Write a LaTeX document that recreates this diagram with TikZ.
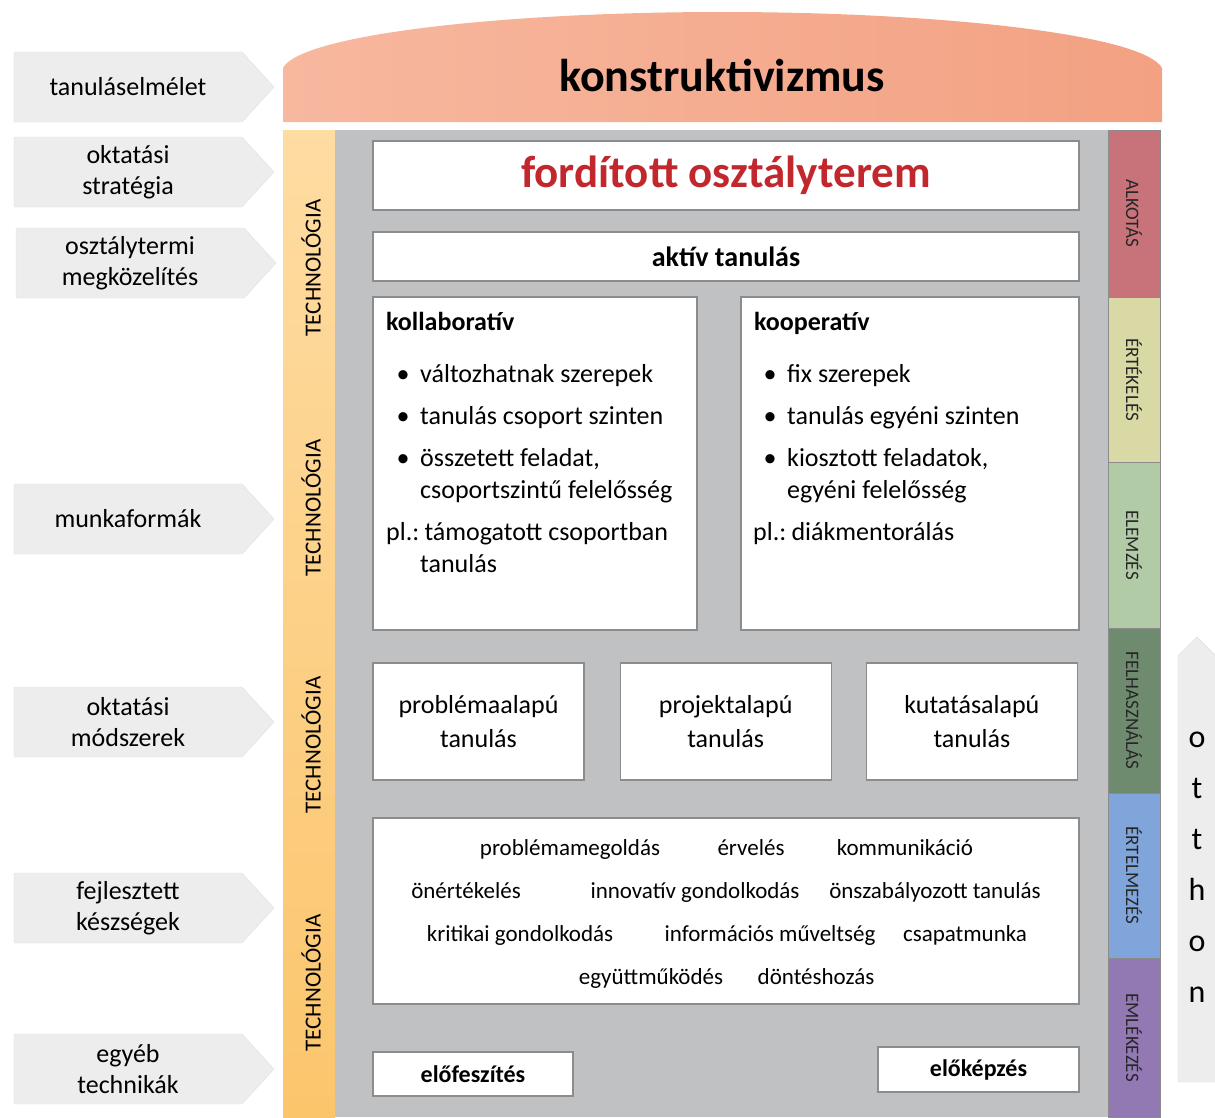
\documentclass[tikz,border=0pt]{standalone}
\usepackage{fontspec}
\setmainfont{Carlito}
\usetikzlibrary{shapes.symbols, positioning}
\definecolor{roofleft}{HTML}{F7B89F}
\definecolor{roofright}{HTML}{F3A182}
\definecolor{techtop}{HTML}{FEDCA2}
\definecolor{techbottom}{HTML}{FBC56C}
\definecolor{panelgray}{HTML}{BFC1C3}
\definecolor{sidegray}{HTML}{EDEDED}
\definecolor{flipred}{HTML}{C1272D}
\definecolor{alkotas}{HTML}{C8737A}
\definecolor{ertekeles}{HTML}{D9D9A6}
\definecolor{elemzes}{HTML}{B2CBA7}
\definecolor{felhasznalas}{HTML}{6F8B6F}
\definecolor{ertelmezes}{HTML}{80A5DA}
\definecolor{emlekezes}{HTML}{9379B4}

\begin{document}
\begin{tikzpicture}[x=1pt, y=-1pt,
    sidearrow/.style={shape=signal, signal to=east, signal pointer angle=95, draw=black!12, fill=sidegray, minimum width=260, minimum height=70, inner sep=0, align=center, font=\fontsize{26}{31}\selectfont},
    whitebox/.style={draw=black!45, line width=1.2pt, fill=white, inner sep=0, align=center},
    bodytext/.style={inner sep=0, font=\fontsize{26}{32}\selectfont},
    skilltext/.style={inner sep=0, anchor=base, font=\fontsize{23}{28}\selectfont},
    techlabel/.style={rotate=90, inner sep=0, font=\fontsize{23}{26}\selectfont},
    bloomseg/.style={rotate=-90, draw=black!45, minimum height=52, inner sep=0, text=black!85, font=\fontsize{19}{22}\selectfont}]
    \useasboundingbox (0,0) rectangle (1215,1117);

    \shade[left color=roofleft, right color=roofright] (283,122) -- (283,68) .. controls (300,35) and (500,12) .. (722,12) .. controls (944,12) and (1144,35) .. (1162,68) -- (1162,122) -- cycle;
    \node[inner sep=0, font=\bfseries\fontsize{46}{50}\selectfont] (constr) at (722,75) {konstruktivizmus};

    \shade[top color=techtop, bottom color=techbottom] (283,130) rectangle (335,1117);
    \fill[panelgray] (335,130) rectangle (1108,1117);

    \node[sidearrow] (theory) at (128,87) {tanuláselmélet};
    \node[sidearrow] (strategy) at (128,172) {oktatási\\stratégia};
    \node[sidearrow] (approach) at (130,263) {osztálytermi\\megközelítés};
    \node[sidearrow] (workforms) at (128,519) {munkaformák};
    \node[sidearrow] (methods) at (128,722) {oktatási\\módszerek};
    \node[sidearrow] (skills) at (128,908) {fejlesztett\\készségek};
    \node[sidearrow] (other) at (128,1069) {egyéb\\technikák};

    \node[techlabel] (tech1) at (311,268) {TECHNOLÓGIA};
    \node[techlabel] (tech2) at (311,508) {TECHNOLÓGIA};
    \node[techlabel] (tech3) at (311,745) {TECHNOLÓGIA};
    \node[techlabel] (tech4) at (311,983) {TECHNOLÓGIA};

    \node[bloomseg, fill=alkotas, minimum width=167] (create) at (1134,213.5) {ALKOTÁS};
    \node[bloomseg, fill=ertekeles, minimum width=165] (evaluate) at (1134,379.5) {ÉRTÉKELÉS};
    \node[bloomseg, fill=elemzes, minimum width=166] (analyse) at (1134,545) {ELEMZÉS};
    \node[bloomseg, fill=felhasznalas, minimum width=165] (apply) at (1134,710.5) {FELHASZNÁLÁS};
    \node[bloomseg, fill=ertelmezes, minimum width=165] (understand) at (1134,875.5) {ÉRTELMEZÉS};
    \node[bloomseg, fill=emlekezes, minimum width=159] (remember) at (1134,1037.5) {EMLÉKEZÉS};

    \draw[draw=black!12, fill=sidegray] (1178,1082) -- (1178,656) -- (1197,637) -- (1216,656) -- (1216,1082) -- cycle;
    \node[inner sep=0, align=center, font=\fontsize{32}{51}\selectfont] (home) at (1197,867) {o\\t\\t\\h\\o\\n};

    \node[whitebox, minimum width=706, minimum height=69, text=flipred, font=\bfseries\fontsize{45}{50}\selectfont] (flipped) at (726,175.5) {fordított osztályterem};
    \node[whitebox, minimum width=706, minimum height=49, font=\bfseries\fontsize{28}{32}\selectfont] (active) at (726,256.5) {aktív tanulás};

    \node[whitebox, minimum width=324, minimum height=333] (collab) at (535,463.5) {};
    \node[whitebox, minimum width=338, minimum height=333] (coop) at (910,463.5) {};
    \node[bodytext, anchor=base west, font=\bfseries\fontsize{26}{32}\selectfont] (collabtitle) at (386,330) {kollaboratív};
    \node[bodytext, anchor=base west, font=\bfseries\fontsize{26}{32}\selectfont] (cooptitle) at (754,330) {kooperatív};
    \node[bodytext, anchor=north west] (collablist) at (386,360) {%
      \begin{tabular}{@{}l@{}l@{}}
        \makebox[34pt]{\textbullet} & változhatnak szerepek\\[10pt]
        \makebox[34pt]{\textbullet} & tanulás csoport szinten\\[10pt]
        \makebox[34pt]{\textbullet} & összetett feladat,\\
        & csoportszintű felelősség\\[10pt]
        \makebox[34pt][l]{pl.:} & \,támogatott csoportban\\
        & tanulás
      \end{tabular}};
    \node[bodytext, anchor=north west] (cooplist) at (753,360) {%
      \begin{tabular}{@{}l@{}l@{}}
        \makebox[34pt]{\textbullet} & fix szerepek\\[10pt]
        \makebox[34pt]{\textbullet} & tanulás egyéni szinten\\[10pt]
        \makebox[34pt]{\textbullet} & kiosztott feladatok,\\
        & egyéni felelősség\\[10pt]
        \makebox[34pt][l]{pl.:} & \,diákmentorálás
      \end{tabular}};

    \node[whitebox, minimum width=211, minimum height=117, font=\fontsize{26}{34}\selectfont] (problem) at (478.5,721.5) {problémaalapú\\tanulás};
    \node[whitebox, minimum width=211, minimum height=117, font=\fontsize{26}{34}\selectfont, right=35 of problem] (project) {projektalapú\\tanulás};
    \node[whitebox, minimum width=211, minimum height=117, font=\fontsize{26}{34}\selectfont, right=34 of project] (inquiry) {kutatásalapú\\tanulás};

    \node[whitebox, minimum width=706, minimum height=186] (skillbox) at (726,911) {};
    \node[skilltext] (s1) at (570,855) {problémamegoldás};
    \node[skilltext] (s2) at (751,855) {érvelés};
    \node[skilltext] (s3) at (905,855) {kommunikáció};
    \node[skilltext] (s4) at (466,898) {önértékelés};
    \node[skilltext] (s5) at (695,898) {innovatív gondolkodás};
    \node[skilltext] (s6) at (935,898) {önszabályozott tanulás};
    \node[skilltext] (s7) at (520,941) {kritikai gondolkodás};
    \node[skilltext] (s8) at (770,941) {információs műveltség};
    \node[skilltext] (s9) at (965,941) {csapatmunka};
    \node[skilltext] (s10) at (651,984) {együttműködés};
    \node[skilltext] (s11) at (816,984) {döntéshozás};

    \node[whitebox, minimum width=200, minimum height=44, font=\bfseries\fontsize{24}{28}\selectfont] (pretension) at (473,1074) {előfeszítés};
    \node[whitebox, minimum width=201, minimum height=45, font=\bfseries\fontsize{24}{28}\selectfont] (pretraining) at (978.5,1069.5) {előképzés};
\end{tikzpicture}
\end{document}
